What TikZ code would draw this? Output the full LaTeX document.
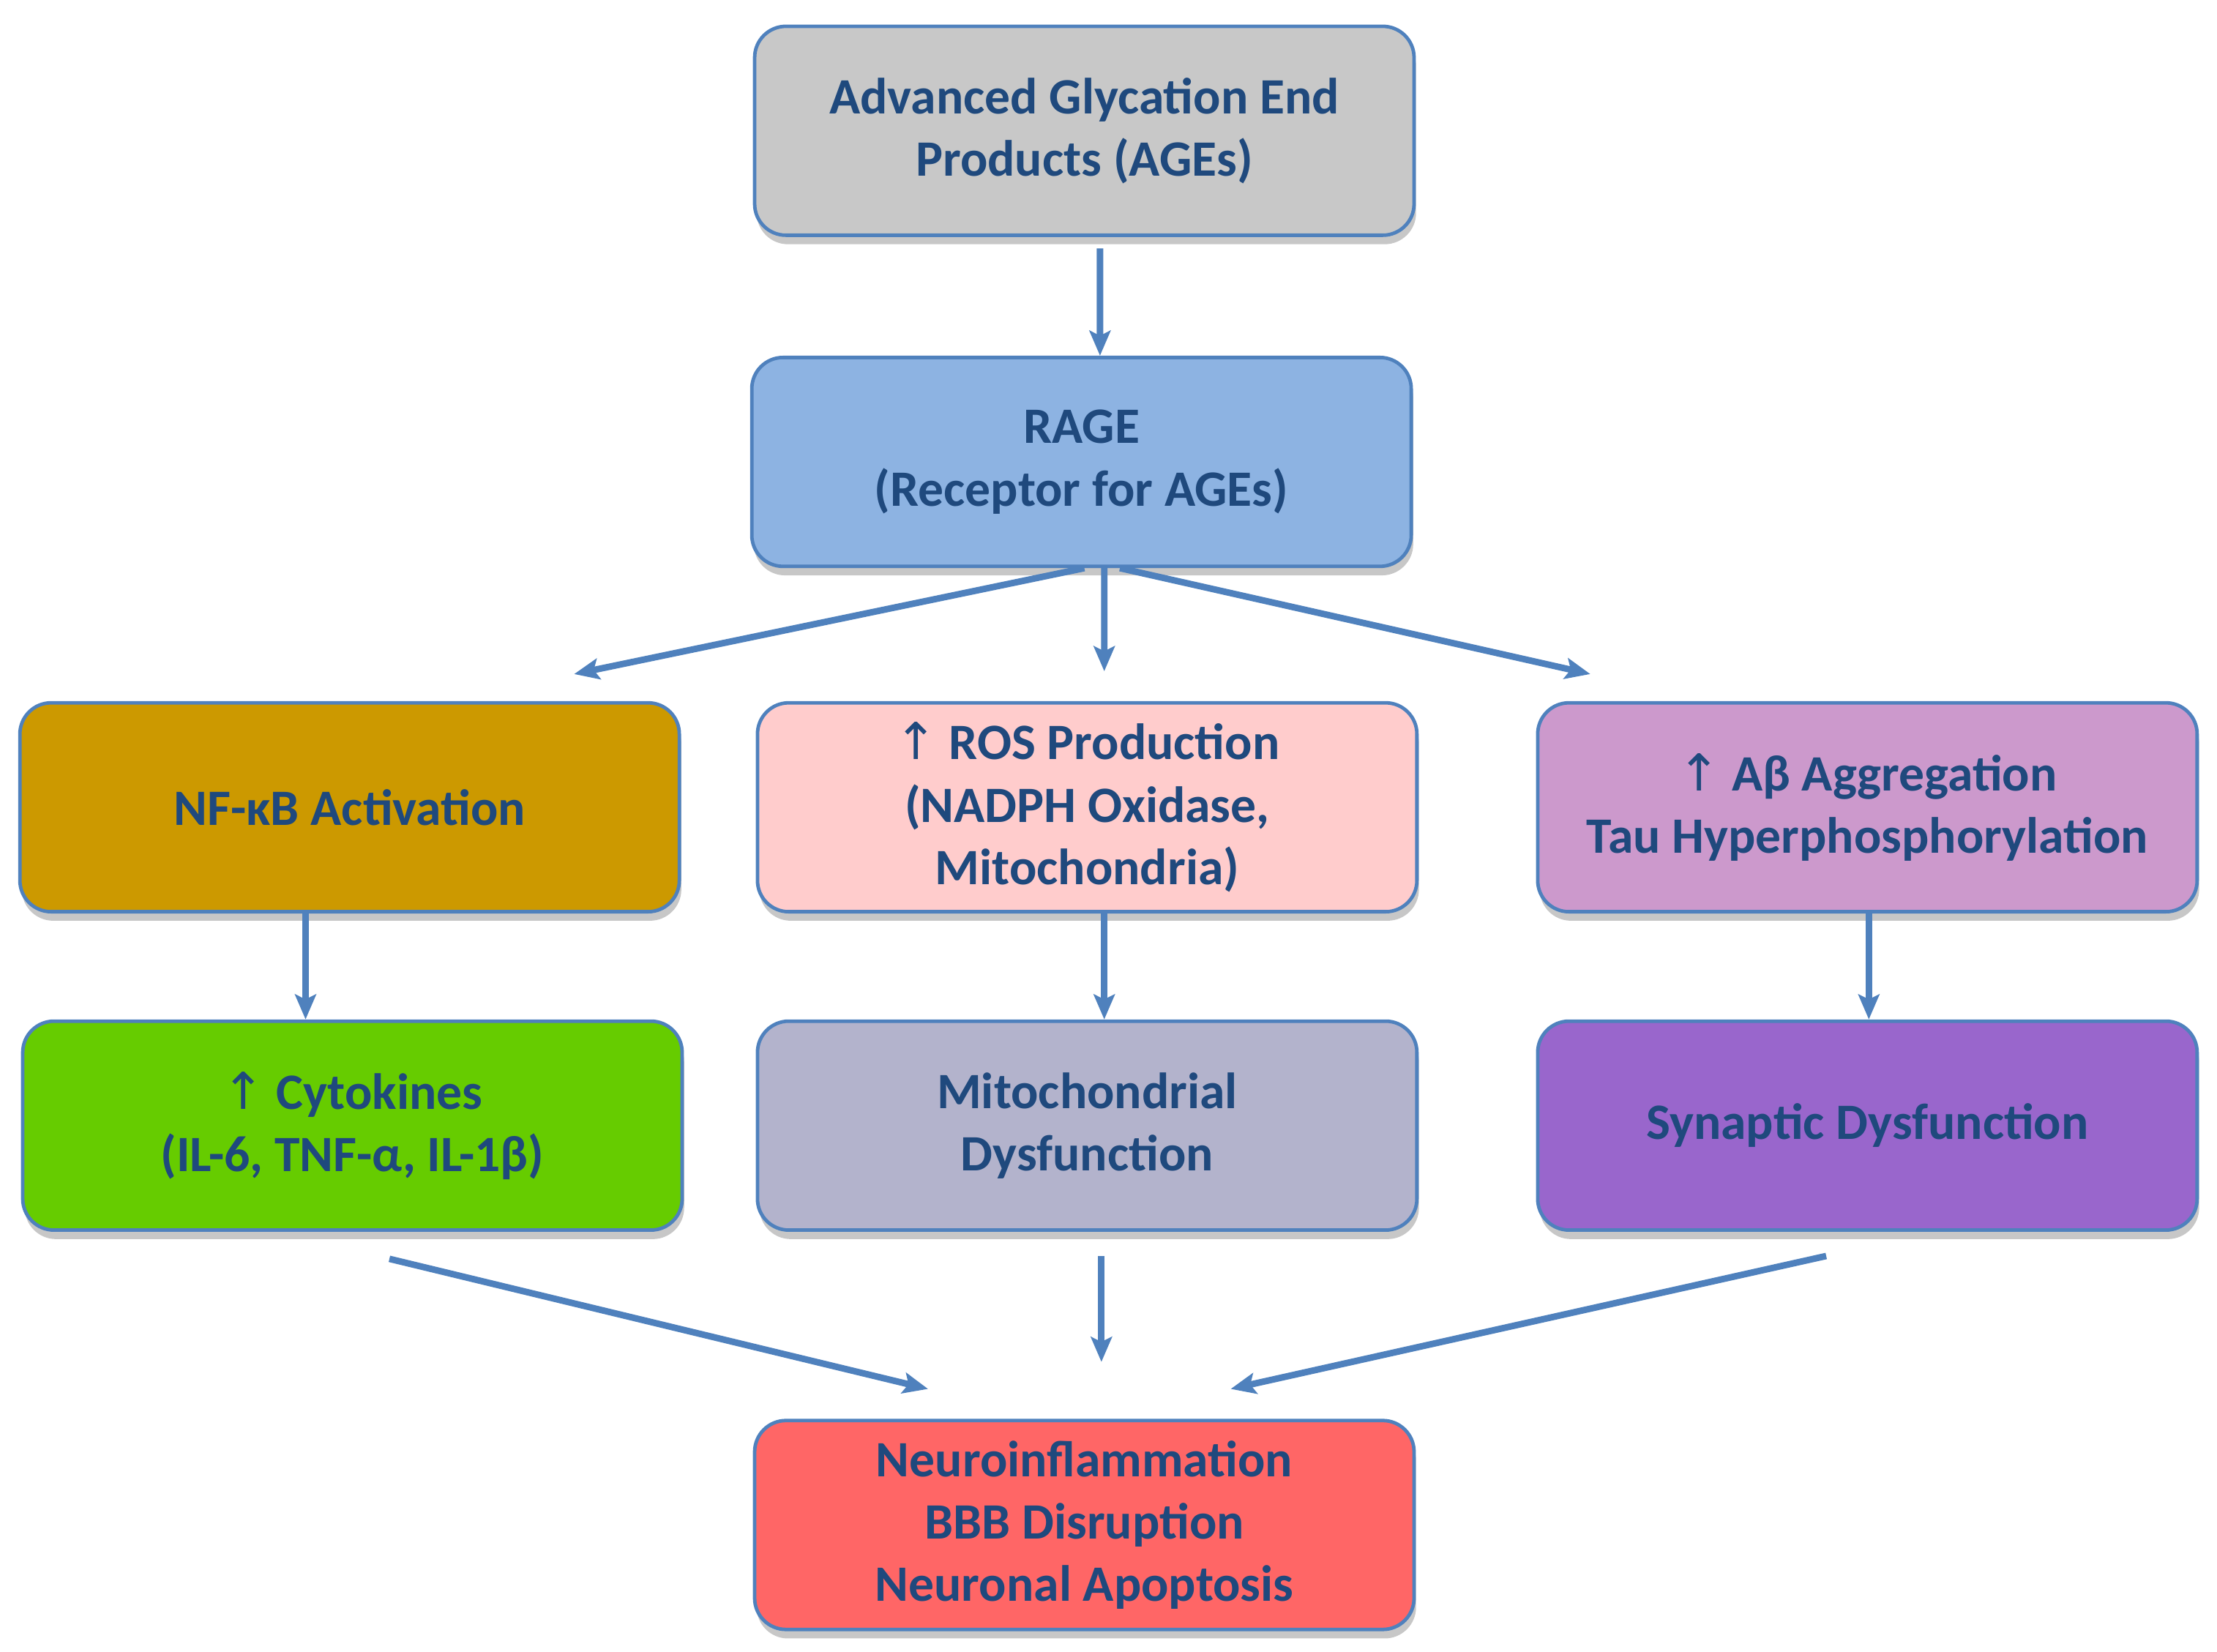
\documentclass[tikz,border=0pt]{standalone}
\usepackage{fontspec}
\setmainfont{Carlito}
\newfontfamily\symfont{DejaVu Sans}
\usetikzlibrary{arrows.meta,shadows}
\definecolor{txtblue}{HTML}{1F497D}
\definecolor{lineblue}{HTML}{4F81BD}
\definecolor{agegray}{HTML}{C8C8C8}
\definecolor{rageblue}{HTML}{8DB3E2}
\definecolor{nfkbgold}{HTML}{CC9900}
\definecolor{rospink}{HTML}{FFCCCC}
\definecolor{abmauve}{HTML}{CC99CC}
\definecolor{cytogreen}{HTML}{66CC00}
\definecolor{mitogray}{HTML}{B3B3CC}
\definecolor{synpurple}{HTML}{9966CC}
\definecolor{outred}{HTML}{FF6666}
\newcommand{\uparr}{{\symfont\mdseries ↑}}
\tikzset{arrow/.style={draw=lineblue,-{Stealth[length=5pt,width=4.2pt,inset=1pt]},line width=1.3pt}}
\tikzset{box/.style={draw=lineblue,line width=0.7pt,rounded corners=0.22cm,
    minimum width=4.64cm,minimum height=1.47cm,align=center,text=txtblue,
    font=\fontsize{10.2pt}{12.5pt}\selectfont\bfseries,fill=#1,
    drop shadow={shadow xshift=0.4pt,shadow yshift=-1.8pt,opacity=0.22,fill=black}}}

\begin{document}
\begin{tikzpicture}
    \useasboundingbox (0,0) rectangle (15.6,-11.62);
    % boxes
    \node[box=agegray] (ages) at (7.63,-0.92) {Advanced Glycation End\\Products (AGEs)};
    \node[box=rageblue] (rage) at (7.61,-3.25) {RAGE\\(Receptor for AGEs)};
    \node[box=nfkbgold] (nfkb) at (2.46,-5.68) {NF-κB Activation};
    \node[box=rospink] (ros) at (7.65,-5.68) {\uparr\ ROS Production\\(NADPH Oxidase,\\Mitochondria)};
    \node[box=abmauve] (abeta) at (13.14,-5.68) {\uparr\ Aβ Aggregation\\Tau Hyperphosphorylation};
    \node[box=cytogreen] (cyto) at (2.48,-7.92) {\uparr\ Cytokines\\(IL-6, TNF-α, IL-1β)};
    \node[box=mitogray] (mito) at (7.65,-7.92) {Mitochondrial\\Dysfunction};
    \node[box=synpurple] (syn) at (13.14,-7.92) {Synaptic Dysfunction};
    \node[box=outred] (out) at (7.63,-10.73) {Neuroinflammation\\BBB Disruption\\Neuronal Apoptosis};
    % arrows
    \draw[arrow] ([shift={(0.11,-0.08)}]ages.south) -- ([xshift=0.13cm]rage.north);
    \draw[arrow] ([xshift=0.02cm]rage.south) -- ([shift={(1.58,0.19)}]nfkb.north);
    \draw[arrow] ([xshift=0.16cm]rage.south) -- ([shift={(0.12,0.21)}]ros.north);
    \draw[arrow] ([xshift=0.27cm]rage.south) -- ([shift={(-1.95,0.19)}]abeta.north);
    \draw[arrow] ([xshift=-0.31cm]nfkb.south) -- ([xshift=-0.33cm]cyto.north);
    \draw[arrow] ([xshift=0.12cm]ros.south) -- ([xshift=0.12cm]mito.north);
    \draw[arrow] ([xshift=0.01cm]abeta.south) -- ([xshift=0.01cm]syn.north);
    \draw[arrow] ([shift={(0.26,-0.19)}]cyto.south) -- ([shift={(-1.10,0.21)}]out.north);
    \draw[arrow] ([shift={(0.10,-0.17)}]mito.south) -- ([shift={(0.12,0.40)}]out.north);
    \draw[arrow] ([shift={(-0.29,-0.17)}]syn.south) -- ([shift={(1.03,0.21)}]out.north);
\end{tikzpicture}
\end{document}
